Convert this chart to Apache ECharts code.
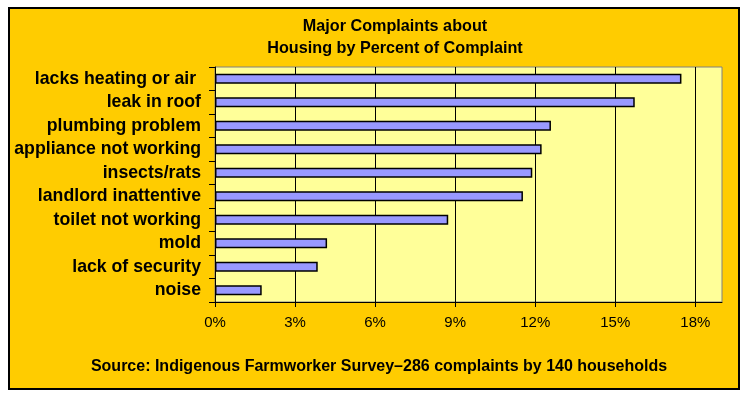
<!DOCTYPE html>
<html>
<head>
<meta charset="utf-8">
<script src="https://cdn.jsdelivr.net/npm/echarts@6/dist/echarts.min.js"></script>
<style>
html,body{margin:0;padding:0;background:#fff;}
#c{width:750px;height:399px;}
</style>
</head>
<body>
<div id="c"></div>
<script>
var categories = ['lacks heating or air ', 'leak in roof', 'plumbing problem', 'appliance not working', 'insects/rats', 'landlord inattentive', 'toilet not working', 'mold', 'lack of security', 'noise'];
var percents = [17.48, 15.73, 12.59, 12.24, 11.89, 11.54, 8.74, 4.20, 3.85, 1.75];
var titleLines = ['Major Complaints about', 'Housing by Percent of Complaint'];
var sourceText = 'Source: Indigenous Farmworker Survey\u2013286 complaints by 140 households';
var xMin = 0, xMax = 19, xStep = 3;

var chart = echarts.init(document.getElementById('c'), null, {renderer: 'canvas'});
var font = '"Liberation Sans", Arial, sans-serif';
chart.setOption({
  backgroundColor: '#ffffff',
  animation: false,
  graphic: [{
    type: 'rect', z: -100, silent: true,
    shape: {x: 9, y: 8, width: 730, height: 381},
    style: {fill: '#FFCC00', stroke: '#000000', lineWidth: 2}
  }],
  title: [{
    text: titleLines.join('\n'),
    left: 390, top: 10, textAlign: 'center',
    textStyle: {fontFamily: font, fontSize: 16.2, fontWeight: 'bold', color: '#000', lineHeight: 22.5}
  }, {
    text: sourceText,
    left: 374, top: 354, textAlign: 'center',
    textStyle: {fontFamily: font, fontSize: 16, fontWeight: 'bold', color: '#000'}
  }],
  grid: {
    left: 215, top: 67, right: 28, bottom: 97,
    show: true, backgroundColor: '#FFFF99', borderColor: '#808080', borderWidth: 1,
    containLabel: false
  },
  xAxis: {
    type: 'value', min: xMin, max: xMax, interval: xStep,
    axisLine: {show: true, lineStyle: {color: '#000', width: 1}},
    axisTick: {show: true, length: 5, lineStyle: {color: '#000'}},
    axisLabel: {
      formatter: function (v) { return v > 18 ? '' : v + '%'; },
      showMaxLabel: false,
      fontFamily: font, fontSize: 15, color: '#000', margin: 13
    },
    splitLine: {show: true, showMaxLine: false, showMinLine: false, lineStyle: {color: '#000', width: 1}}
  },
  yAxis: {
    type: 'category', data: categories, inverse: true,
    axisLine: {show: true, lineStyle: {color: '#000', width: 1}},
    axisTick: {show: true, length: 6, lineStyle: {color: '#000'}},
    axisLabel: {fontFamily: font, fontSize: 17.7, fontWeight: 'bold', color: '#000', margin: 14}
  },
  series: [{
    type: 'bar', data: percents, barWidth: 10,
    itemStyle: {color: '#9999FF', borderColor: '#000', borderWidth: 1.5}
  }]
});
</script>
</body>
</html>
